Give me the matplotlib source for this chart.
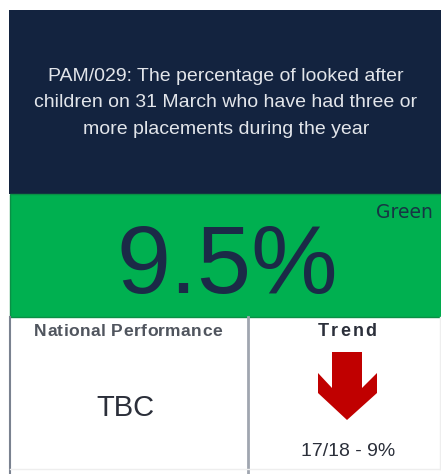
import matplotlib
matplotlib.use("Agg")
import matplotlib.pyplot as plt
from matplotlib.patches import Rectangle, Polygon

# ---- data ----
title_lines = ["PAM/029: The percentage of looked after",
               "children on 31 March who have had three or",
               "more placements during the year"]
value_label = "9.5%"
rag_status = "Green"
national_header = "National Performance"
national_value = "TBC"
trend_header = "Trend"
trend_label = "17/18 - 9%"

NAVY = "#13233f"
GREEN = "#00b050"
DARK = "#1b2a47"
RED = "#c00000"

W, H = 441, 474
fig = plt.figure(figsize=(W / 100, H / 100), dpi=100)
ax = fig.add_axes([0, 0, 1, 1])
ax.set_xlim(0, W)
ax.set_ylim(H, 0)
ax.axis("off")
fig.patch.set_facecolor("white")

font = "Liberation Sans"


def tracked_text(x, y, s, spacing, **kw):
    """Draw text centred at x with extra letter spacing (pixels)."""
    fig.canvas.draw()
    r = fig.canvas.get_renderer()
    widths = []
    for ch in s:
        t = ax.text(0, 0, ch, **kw)
        widths.append(t.get_window_extent(renderer=r).width)
        t.remove()
    total = sum(widths) + spacing * (len(s) - 1)
    cx = x - total / 2
    for ch, w in zip(s, widths):
        ax.text(cx, y, ch, ha="left", va="center", **kw)
        cx += w + spacing


# header box
ax.add_patch(Rectangle((9, 10), 432, 184, facecolor=NAVY, edgecolor="none"))
for i, line in enumerate(title_lines):
    ax.text(226, 76 + i * 26.5, line, color="#e2e5ea", fontsize=14,
            family=font, ha="center", va="center")

# green value box
ax.add_patch(Rectangle((10, 194), 431, 123, facecolor=GREEN, edgecolor="#0a8f45", lw=1))
ax.text(227, 268, value_label, color=DARK, fontsize=70, family=font,
        ha="center", va="center")
ax.text(433, 212, rag_status, color="#173544", fontsize=13.5, family="DejaVu Sans",
        ha="right", va="center")

# bottom cells
ax.plot([10, 10], [317, H], color="#7a8290", lw=1.5)
ax.plot([248, 248], [317, H], color="#a0a6b0", lw=2)
ax.plot([10, 440], [469, 469], color="#eeeeee", lw=1)
ax.plot([440, 440], [317, 469], color="#eeeeee", lw=1)

tracked_text(128, 331, national_header, 0.4, color="#50555e", fontsize=12.6,
             fontweight="bold", family=font)
ax.text(125, 408, national_value, color="#2b2f3a", fontsize=21, family=font,
        ha="center", va="center")

tracked_text(347, 331, trend_header, 2.2, color="#2b2f3a", fontsize=13,
             fontweight="bold", family=font)
# down arrow
arrow = Polygon([(332, 352), (362, 352), (362, 388), (377, 373), (377, 393),
                 (347, 420), (318, 393), (318, 373), (332, 388)],
                closed=True, facecolor=RED, edgecolor="none")
ax.add_patch(arrow)
ax.text(348, 451, trend_label, color="#2b2f3a", fontsize=14, family=font,
        ha="center", va="center")

fig.savefig("out.png", dpi=100, facecolor="white")
